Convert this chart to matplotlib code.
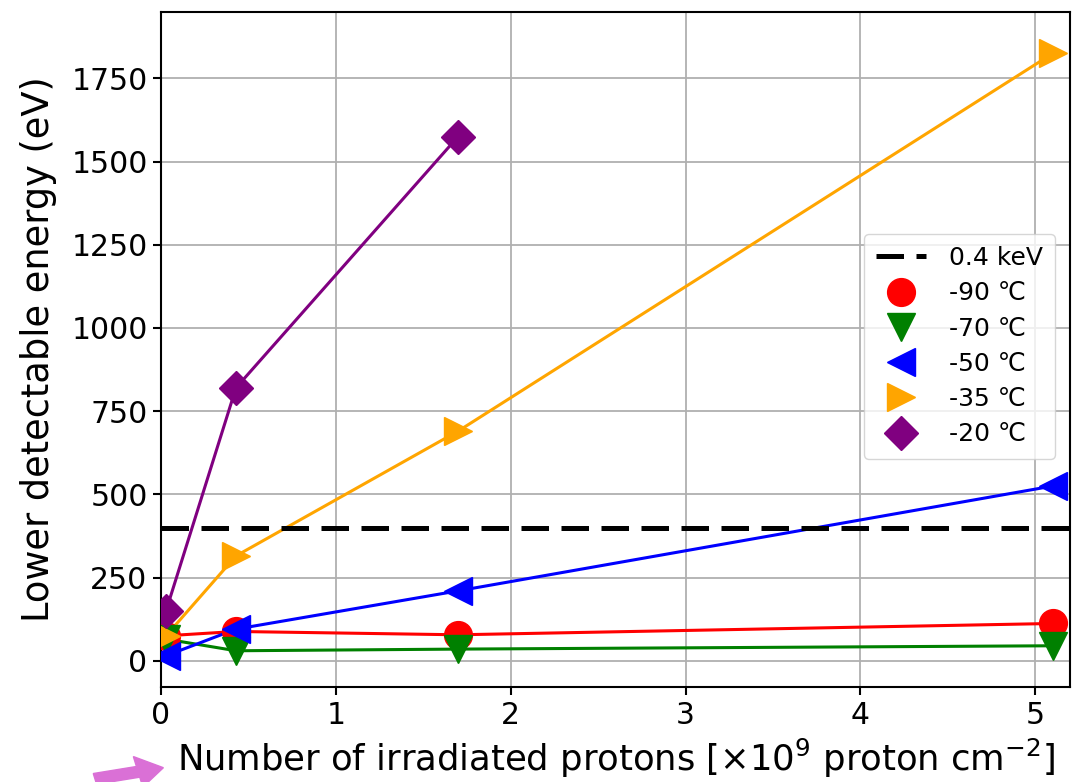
import matplotlib.pyplot as plt
from matplotlib.patches import FancyArrow

# Lower detectable energy vs. proton fluence
fluence = [0.03, 0.43, 1.7, 5.1]
fluence_20 = [0.03, 0.43, 1.7]
e_m90 = [75, 88, 78, 112]
e_m70 = [65, 30, 35, 45]
e_m50 = [15, 95, 210, 525]
e_m35 = [75, 315, 690, 1825]
e_m20 = [150, 820, 1575]
threshold = 400

series = [
    (fluence, e_m90, 'o', 'red', 20, '-90 ℃'),
    (fluence, e_m70, 'v', 'green', 20, '-70 ℃'),
    (fluence, e_m50, '<', 'blue', 20, '-50 ℃'),
    (fluence, e_m35, '>', 'orange', 20, '-35 ℃'),
    (fluence_20, e_m20, 'D', 'purple', 17, '-20 ℃'),
]

fig = plt.figure(figsize=(10.79, 7.82), dpi=100)
ax = fig.add_axes([0.149, 0.121, 0.843, 0.864])

ax.axhline(threshold, color='black', linewidth=3.6, linestyle=(0, (5.5, 2.5)),
           label='0.4 keV', zorder=3)
for x, y, m, c, ms, lab in series:
    ax.plot(x, y, color=c, linewidth=2.2, zorder=2)
    ax.plot(x, y, marker=m, color=c, markersize=ms, linestyle='none', label=lab, zorder=4)

ax.set_xlim(0, 5.2)
ax.set_ylim(-80, 1950)
ax.set_yticks([0, 250, 500, 750, 1000, 1250, 1500, 1750])
ax.grid(True, color='#b0b0b0', linewidth=1.3)
ax.tick_params(labelsize=21.5, width=1.5, length=6)
for s in ax.spines.values():
    s.set_linewidth(1.5)

ax.set_xlabel(r'Number of irradiated protons [$\times 10^9$ proton cm$^{-2}$]',
              fontsize=25.5, labelpad=5)
ax.set_ylabel('Lower detectable energy (eV)', fontsize=26.5, labelpad=10)
ax.legend(loc='center right', bbox_to_anchor=(0.997, 0.505), fontsize=18,
          handlelength=2.0, labelspacing=0.45, borderpad=0.5, handletextpad=0.9)

# pink arrow visible at the bottom left of the source image
fig.patches.append(FancyArrow(0.088, 0.004, 0.04, 0.009, width=0.014, head_width=0.04,
                              head_length=0.024, color='orchid',
                              transform=fig.transFigure, figure=fig))

fig.savefig('out.png', dpi=100)
